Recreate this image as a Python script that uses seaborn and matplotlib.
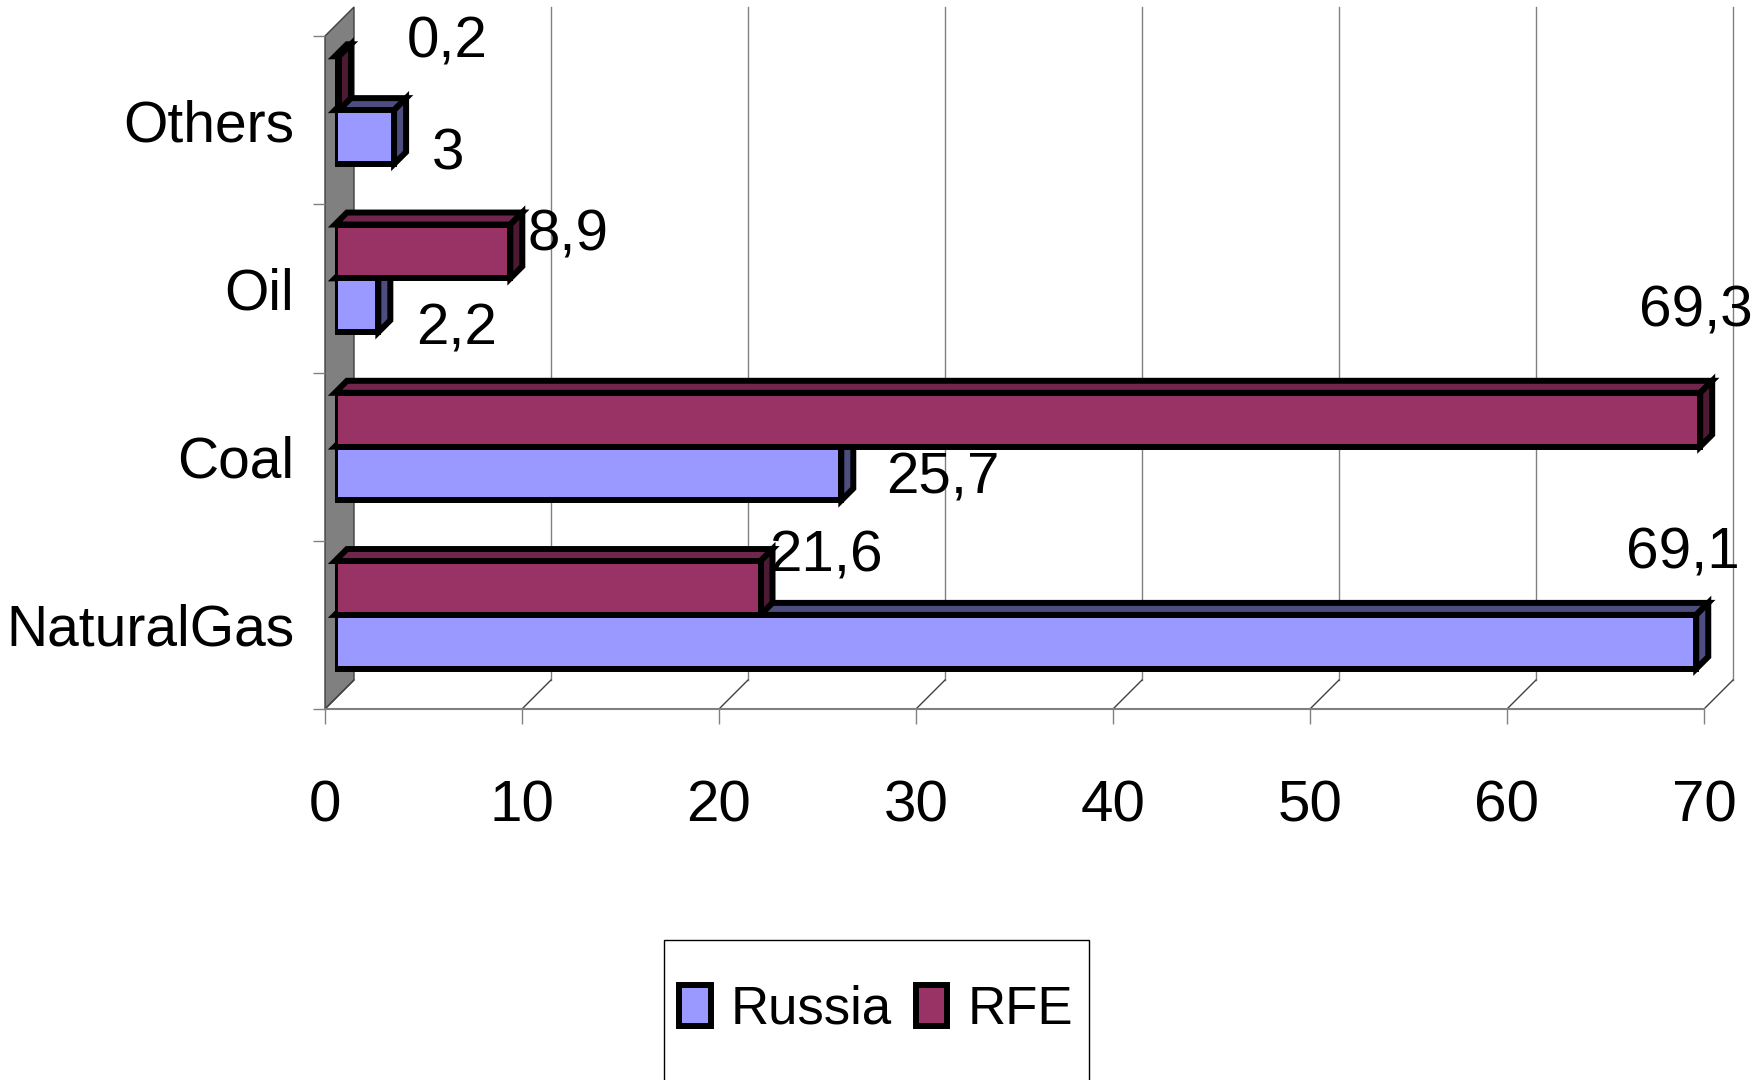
import matplotlib
matplotlib.use("Agg")
import pandas as pd
import matplotlib.pyplot as plt
from matplotlib.patches import Patch, Polygon, Rectangle
import seaborn as sns

categories = ["Others", "Oil", "Coal", "NaturalGas"]
russia = [3.0, 2.2, 25.7, 69.1]
rfe = [0.2, 8.9, 69.3, 21.6]
x_ticks = [0, 10, 20, 30, 40, 50, 60, 70]

# where Excel put the value labels, pixels from bar end / bar centre (right, up)
russia_lbl_off = [(54, -17), (78, -24), (102, -5), (-13, 88)]
rfe_lbl_off = [(108, 41), (58, 16), (-4, 108), (65, 31)]

russia_col = "#9999FF"
rfe_col = "#993366"
shade = {"Russia": ("#4D4D80", "#4D4D80"), "RFE": ("#73264D", "#4D1A33")}

df = pd.DataFrame({
    "category": categories * 2,
    "source": ["Russia"] * 4 + ["RFE"] * 4,
    "value": russia + rfe,
})

plt.rcParams["font.family"] = ["Liberation Sans", "DejaVu Sans"]
plt.rcParams["text.color"] = "black"

W, H = 1765, 1080
X0, X70, YT, YB = 325, 1704, 36, 709
fig = plt.figure(figsize=(W / 100, H / 100), dpi=100)
ax = fig.add_axes([X0 / W, 1 - YB / H, (X70 - X0) / W, (YB - YT) / H])
ax.set_xlim(0, 70)
ax.set_ylim(3.5, -0.5)
ppx = (X70 - X0) / 70
ppy = (YB - YT) / 4
BX, BY = 29 / ppx, -29 / ppy
grid = "#808080"

# back wall gridlines, floor and left wall
for t in x_ticks[1:]:
    ax.plot([t + BX, t + BX], [-0.5 + BY, 3.5 + BY], color=grid, lw=1, clip_on=False)
for t in x_ticks:
    ax.plot([t, t + BX], [3.5, 3.5 + BY], color="#404040", lw=1, clip_on=False)
ax.plot([0, 70], [3.5, 3.5], color=grid, lw=1.5, clip_on=False)
ax.add_patch(Polygon([(0, -0.5), (BX, -0.5 + BY), (BX, 3.5 + BY), (0, 3.5)],
                     closed=True, fc="#808080", ec="#404040", lw=1, clip_on=False))
for s in ax.spines.values():
    s.set_visible(False)
ax.set_xticks(x_ticks)
ax.set_xticklabels([str(t) for t in x_ticks])
ax.tick_params(axis="x", bottom=True, length=11, width=1, color=grid,
               labelsize=42, labelcolor="black", pad=40, direction="out")
ax.set_yticks([-0.5, 0.5, 1.5, 2.5, 3.5])
ax.set_yticklabels([])
ax.set_yticks([0, 1, 2, 3], minor=True)
ax.set_yticklabels(categories, minor=True)
ax.tick_params(axis="y", which="major", left=True, length=9, width=1, color=grid)
ax.tick_params(axis="y", which="minor", left=True, length=0, labelsize=41,
               labelcolor="black", pad=22)
ax.set_xlabel("")
ax.set_ylabel("")

# bars sit a little inside the depth
axb = fig.add_axes([(X0 + 10) / W, 1 - (YB - 10) / H, (X70 - X0) / W, (YB - YT) / H])
axb.patch.set_alpha(0)
sns.barplot(data=df, y="category", x="value", hue="source", order=categories,
            hue_order=["RFE", "Russia"], palette={"Russia": russia_col, "RFE": rfe_col},
            saturation=1, width=0.64, edgecolor="black", linewidth=4.3, orient="h",
            legend=False, ax=axb)
axb.set_xlim(0, 70)
axb.set_ylim(3.5, -0.5)
axb.axis("off")

dx, dy = 12 / ppx, -12 / ppy
for name, cont, offs in [("Russia", axb.containers[1], russia_lbl_off),
                         ("RFE", axb.containers[0], rfe_lbl_off)]:
    top_c, side_c = shade[name]
    for bar, (ox, oy) in zip(cont, offs):
        bar.set_zorder(3)
        w, y, h = bar.get_width(), bar.get_y(), bar.get_height()
        axb.add_patch(Polygon([(0, y), (w, y), (w + dx, y + dy), (dx, y + dy)],
                              closed=True, fc=top_c, ec="black", lw=4.3, zorder=2,
                              clip_on=False))
        axb.add_patch(Polygon([(w, y), (w, y + h), (w + dx, y + h + dy), (w + dx, y + dy)],
                              closed=True, fc=side_c, ec="black", lw=4.3, zorder=2,
                              clip_on=False))
        txt = f"{w:g}".replace(".", ",")
        axb.annotate(txt, xy=(w, y + h / 2), xytext=(ox * 0.72, oy * 0.72),
                     textcoords="offset points", ha="center", va="center",
                     fontsize=42, color="black", annotation_clip=False)

handles = [Patch(fc=russia_col, ec="black", lw=4.3, label="Russia"),
           Patch(fc=rfe_col, ec="black", lw=4.3, label="RFE")]
leg = fig.legend(handles=handles, loc="center", bbox_to_anchor=(876 / W, 1 - 1010 / H),
                 ncol=2, frameon=False, fontsize=38, handlelength=0.6,
                 handleheight=0.8, handletextpad=0.38, columnspacing=0.45,
                 borderpad=0, borderaxespad=0)
fig.add_artist(Rectangle((664 / W, -0.02), (1089 - 664) / W, 0.02 + (1080 - 940) / H,
                         transform=fig.transFigure, fill=False, ec="black", lw=1))

fig.savefig("out.png", dpi=100)
